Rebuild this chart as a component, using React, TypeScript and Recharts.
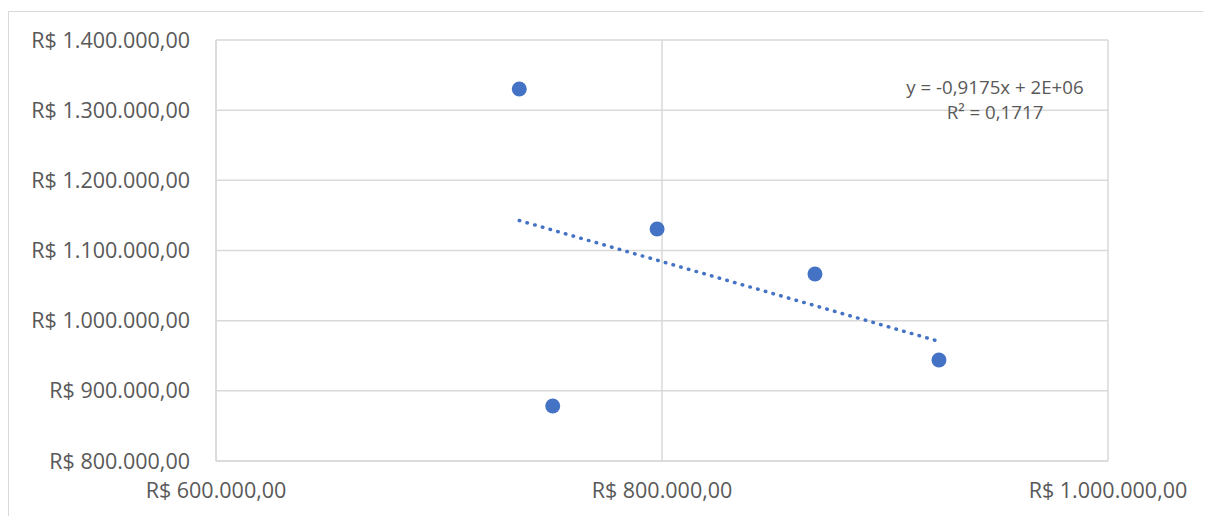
import React from "react";
import {
  CartesianGrid,
  ReferenceLine,
  Scatter,
  ScatterChart,
  XAxis,
  YAxis
} from "recharts";

const xValues = [736000, 751000, 797800, 868600, 924200];
const yValues = [1330200, 878400, 1130700, 1066500, 944000];
const xTicks = [600000, 800000, 1000000];
const yTicks = [800000, 900000, 1000000, 1100000, 1200000, 1300000, 1400000];
const trendLabels = ["y = -0,9175x + 2E+06", "R² = 0,1717"];

const points = xValues.map((x, i) => ({ x, y: yValues[i] }));

// least squares fit for the linear trendline
function linearFit(xs: number[], ys: number[]) {
  const n = xs.length;
  const mx = xs.reduce((a, b) => a + b, 0) / n;
  const my = ys.reduce((a, b) => a + b, 0) / n;
  let sxy = 0;
  let sxx = 0;
  xs.forEach((x, i) => {
    sxy += (x - mx) * (ys[i] - my);
    sxx += (x - mx) * (x - mx);
  });
  const slope = sxy / sxx;
  return { slope, intercept: my - slope * mx };
}

const fit = linearFit(xValues, yValues);
const xMin = Math.min(...xValues);
const xMax = Math.max(...xValues);
const trendSegment = [
  { x: xMin, y: fit.intercept + fit.slope * xMin },
  { x: xMax, y: fit.intercept + fit.slope * xMax }
];

function formatBRL(value: number) {
  const int = Math.round(value)
    .toString()
    .replace(/\B(?=(\d{3})+(?!\d))/g, ".");
  return `R$ ${int},00`;
}

const textColor = "#595959";
const gridColor = "#d9d9d9";
const blue = "#4472c4";
const font = "'Open Sans', sans-serif";

export default function App() {
  return (
    <div style={{ paddingTop: 3, fontFamily: font }}>
      <div
        style={{
          width: 1203,
          height: 505,
          borderTop: `1px solid ${gridColor}`,
          borderLeft: `1px solid ${gridColor}`,
          position: "relative"
        }}
      >
        <ScatterChart
          width={1202}
          height={504}
          margin={{ top: 28, right: 103, left: 0, bottom: 0 }}
        >
          <CartesianGrid stroke={gridColor} strokeWidth={1.5} />
          <XAxis
            type="number"
            dataKey="x"
            domain={[600000, 1000000]}
            ticks={xTicks}
            tickFormatter={formatBRL}
            height={55}
            tickLine={false}
            tickSize={0}
            tickMargin={22}
            axisLine={{ stroke: gridColor, strokeWidth: 1.5 }}
            tick={{ fill: textColor, fontSize: 21.5, fontFamily: font }}
            interval={0}
          />
          <YAxis
            type="number"
            dataKey="y"
            domain={[800000, 1400000]}
            ticks={yTicks}
            tickFormatter={formatBRL}
            width={207}
            tickLine={false}
            tickSize={0}
            tickMargin={26}
            axisLine={{ stroke: gridColor, strokeWidth: 1.5 }}
            tick={{ fill: textColor, fontSize: 21.5, fontFamily: font }}
            interval={0}
          />
          <Scatter
            data={points}
            fill={blue}
            isAnimationActive={false}
            shape={(p: any) => <circle cx={p.cx} cy={p.cy} r={7.5} fill={blue} />}
          />
          <ReferenceLine
            segment={trendSegment}
            stroke={blue}
            strokeWidth={3.5}
            strokeDasharray="0.5 7.5"
            strokeLinecap="round"
          />
        </ScatterChart>
        <div
          style={{
            position: "absolute",
            left: 876,
            top: 62,
            width: 220,
            textAlign: "center",
            color: textColor,
            fontSize: 18.7,
            lineHeight: "25px"
          }}
        >
          {trendLabels.map((t) => (
            <div key={t}>{t}</div>
          ))}
        </div>
      </div>
    </div>
  );
}
